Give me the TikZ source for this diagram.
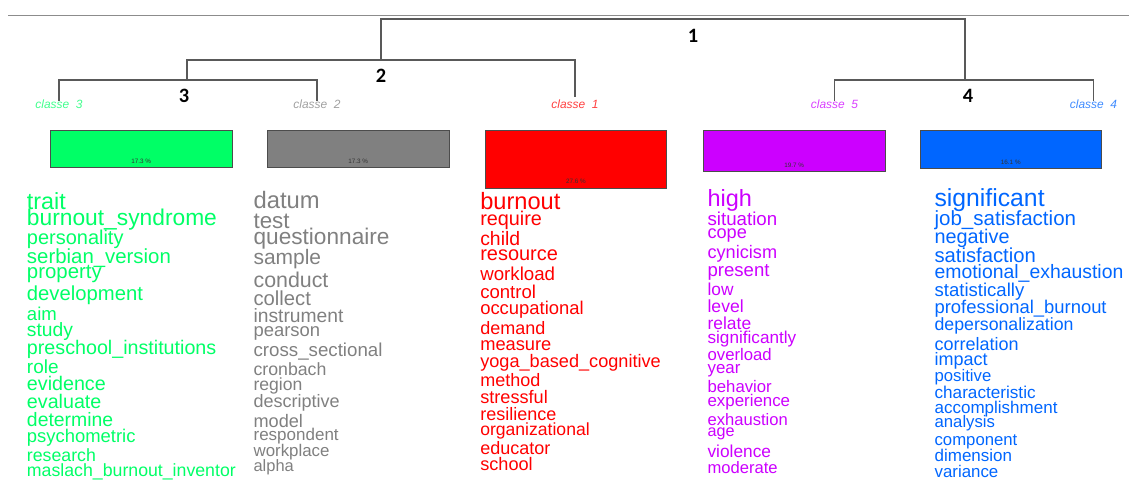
\documentclass[tikz,border=0pt]{standalone}
\usepackage{fontspec}
\setmainfont{Liberation Sans}
\newfontfamily\numfont{Carlito}
\usetikzlibrary{positioning}
\definecolor{cgreen}{HTML}{00FF66}
\definecolor{cgray}{HTML}{808080}
\definecolor{cred}{HTML}{FF0000}
\definecolor{cpurple}{HTML}{CC00FF}
\definecolor{cblue}{HTML}{0066FF}

\begin{document}
\begin{tikzpicture}[x=0.025cm,y=-0.025cm]
        \tikzstyle{every node}=[inner sep=0pt]
        \tikzstyle{branch}=[draw=black!65, line width=0.8pt]
        \tikzstyle{classe}=[font=\fontsize{8.5}{9}\selectfont\itshape]
        \tikzstyle{num}=[font=\numfont\bfseries\fontsize{14.5}{14.5}\selectfont]
        \tikzstyle{bar}=[draw=black!70, line width=0.5pt, anchor=north west, minimum width=4.54cm]
        \tikzstyle{pct}=[font=\fontsize{4.5}{5}\selectfont, text=black!80]
        \tikzstyle{word}=[anchor=base west, text height=0.7em, text depth=0.15em]
        \useasboundingbox (0,0) rectangle (1129,481);
        \draw[black!45, line width=0.6pt] (8,15) -- (1129,15);
        \coordinate (n1) at (673,19); \coordinate (n2) at (381,60); \coordinate (n3) at (187,80); \coordinate (n4) at (965,80);
        \coordinate (t3) at (59,101); \coordinate (t2) at (317,101); \coordinate (t1) at (575,97); \coordinate (t5) at (834.5,101); \coordinate (t4) at (1093.5,101);
        \draw[branch] (t3) |- (n3) -| (t2);
        \draw[branch] (n3) |- (n2) -| (t1);
        \draw[branch] (n2) |- (n1) -| (n4);
        \draw[branch] (t5) |- (n4) -| (t4);
        \node[num] (h1) at (693,36) {1};
        \node[num] (h2) at (381,76) {2};
        \node[num] (h3) at (184,96) {3};
        \node[num] (h4) at (968,96) {4};
        \node[classe, text=cgreen!75] (l3) at (59,104) {classe\ \ 3};
        \node[classe, text=cgray!75] (l2) at (317,104) {classe\ \ 2};
        \node[classe, text=cred!75] (l1) at (575,104) {classe\ \ 1};
        \node[classe, text=cpurple!75] (l5) at (834.5,104) {classe\ \ 5};
        \node[classe, text=cblue!75] (l4) at (1093.5,104) {classe\ \ 4};
        \node[bar, fill=cgreen, minimum height=0.925cm] (b3) at (50,130) {};
        \node[bar, fill=cgray, minimum height=0.925cm] (b2) at (267,130) {};
        \node[bar, fill=cred, minimum height=1.44cm] (b1) at (484.7,130) {};
        \node[bar, fill=cpurple, minimum height=1.025cm] (b5) at (703,130) {};
        \node[bar, fill=cblue, minimum height=0.95cm] (b4) at (919.6,130) {};
        \node[pct, above=0.1cm of b3.south] (p3) {17.3 \%};
        \node[pct, above=0.1cm of b2.south] (p2) {17.3 \%};
        \node[pct, above=0.1cm of b1.south] (p1) {27.6 \%};
        \node[pct, above=0.1cm of b5.south] (p5) {19.7 \%};
        \node[pct, above=0.1cm of b4.south] (p4) {16.1 \%};
        \foreach \w/\s/\y [count=\i] in {trait/16.6/209, burnout\_syndrome/16.2/225.7, personality/14.2/244, serbian\_version/14.5/263.3, property/14.5/278, development/14.4/300, aim/13.2/320, study/13.7/336, preschool\_institutions/14/354, role/13.5/373, evidence/14/390.7, evaluate/14/408, determine/13.8/426.7, psychometric/13.1/442.7, research/12.6/461, maslach\_burnout\_inventor/12.6/476.7}
            \node[word, text=cgreen, font=\fontsize{\s}{\s}\selectfont] (g\i) at (26.7,\y) {\w};
        \foreach \w/\s/\y [count=\i] in {datum/16.9/208.3, test/15.9/228.3, questionnaire/16.1/244.3, sample/14.9/264, conduct/15.2/287.3, collect/14.4/305.7, instrument/13.7/322.7, pearson/13.1/336.7, cross\_sectional/13.3/356.7, cronbach/12.6/375, region/12.5/390, descriptive/12.8/407.7, model/12.9/427.3, respondent/12.1/440, workplace/12/456, alpha/11.7/471}
            \node[word, text=cgray, font=\fontsize{\s}{\s}\selectfont] (d\i) at (253.3,\y) {\w};
        \foreach \w/\s/\y [count=\i] in {burnout/16.8/209.3, require/14.1/225, child/13.8/245.7, resource/14.2/260.7, workload/13.3/280.7, control/13.2/298.3, occupational/13.1/314.3, demand/12.8/334.3, measure/13/350.7, yoga\_based\_cognitive/12.9/367.7, method/12.8/386, stressful/12.9/403.3, resilience/12.8/420.7, organizational/12.5/435, educator/12.8/454, school/12.9/470}
            \node[word, text=cred, font=\fontsize{\s}{\s}\selectfont] (r\i) at (480,\y) {\w};
        \foreach \w/\s/\y [count=\i] in {high/16.7/206, situation/13.3/225, cope/12.9/238.3, cynicism/12.9/258.3, present/13.2/276, low/12.3/295, level/12.5/312.7, relate/12.4/329.3, significantly/12.2/343.3, overload/11.9/360.7, year/12/373.3, behavior/11.9/392.7, experience/12/406.7, exhaustion/11.8/425, age/11.5/436, violence/12.3/457.3, moderate/11.8/473.3}
            \node[word, text=cpurple, font=\fontsize{\s}{\s}\selectfont] (v\i) at (707.3,\y) {\w};
        \foreach \w/\s/\y [count=\i] in {significant/17.6/206, job\_satisfaction/14.6/225, negative/14.1/243.3, satisfaction/14.4/262.3, emotional\_exhaustion/13.8/278.3, statistically/13.2/296, professional\_burnout/13.1/313.3, depersonalization/12.6/330.7, correlation/12.8/350, impact/12.8/365, positive/11.9/381, characteristic/12.2/398.3, accomplishment/12.1/413.3, analysis/11.9/427.7, component/11.9/445, dimension/12.1/461.7, variance/12/477.3}
            \node[word, text=cblue, font=\fontsize{\s}{\s}\selectfont] (s\i) at (934.3,\y) {\w};
\end{tikzpicture}
\end{document}
